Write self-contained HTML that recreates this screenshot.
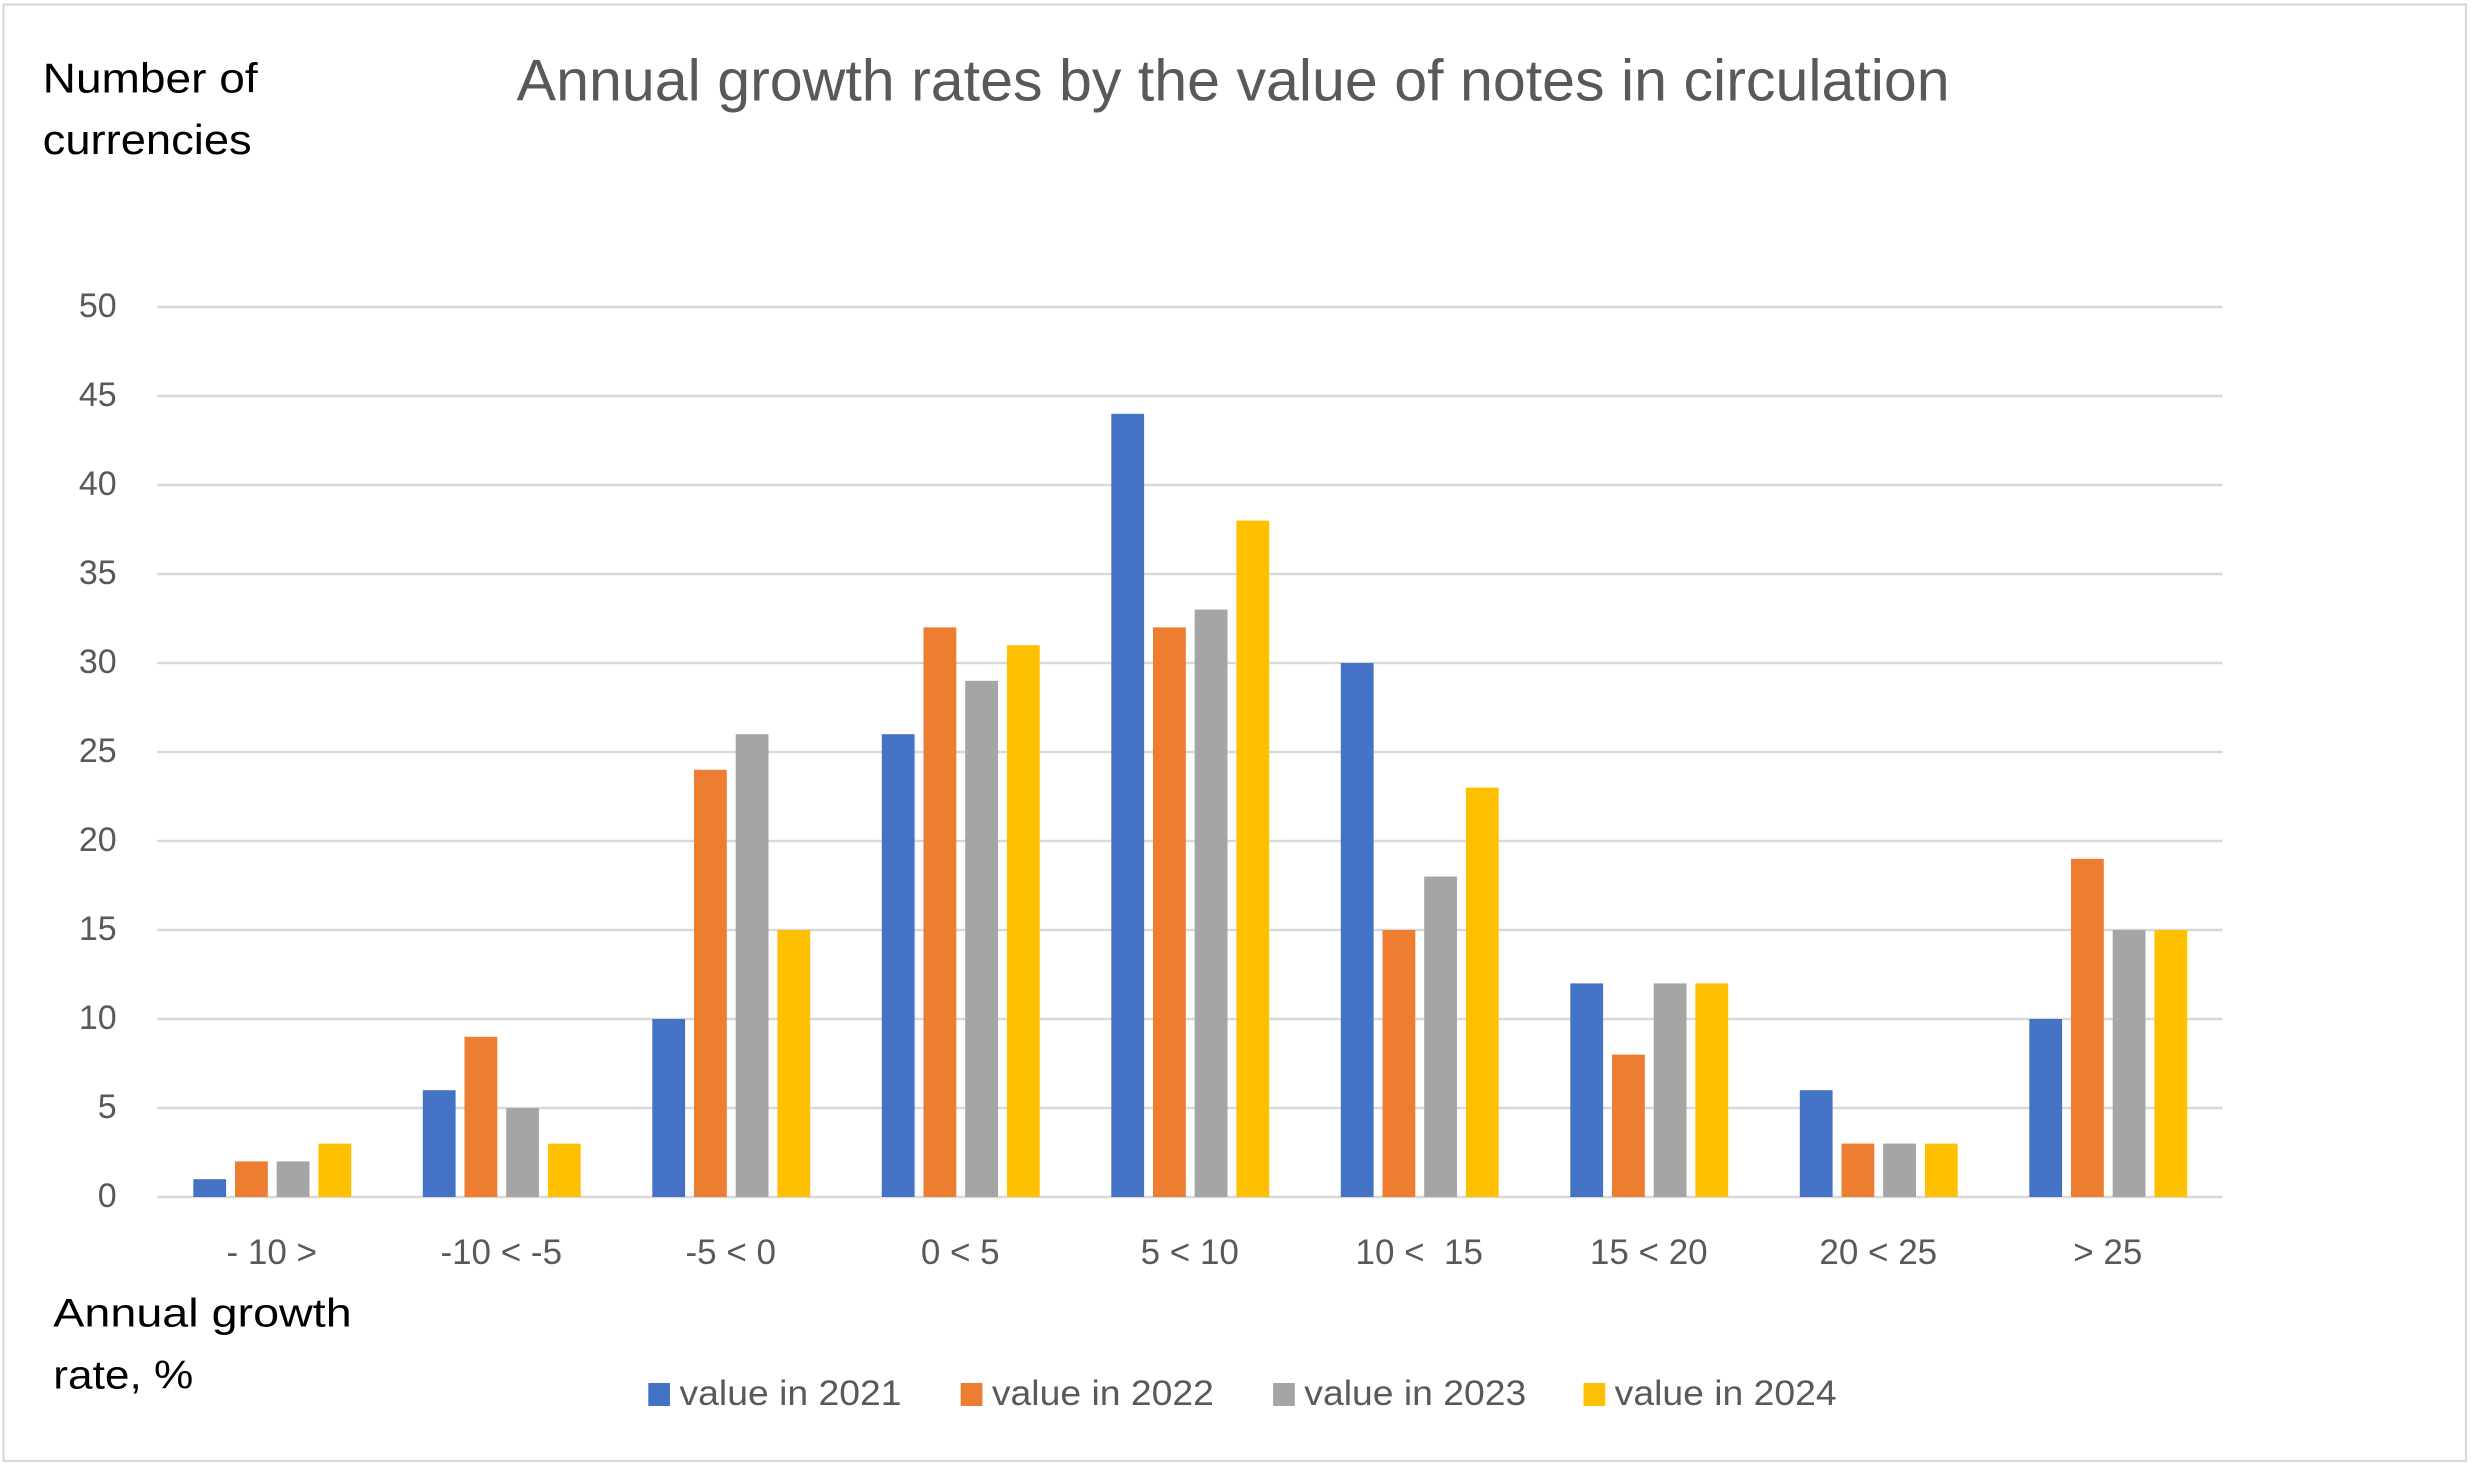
<!DOCTYPE html>
<html>
<head>
<meta charset="utf-8">
<style>
  html, body { margin: 0; padding: 0; background: #ffffff; }
  svg { display: block; }
  text { font-family: "Liberation Sans", "DejaVu Sans", sans-serif; }
</style>
</head>
<body>
<svg width="2475" height="1471" viewBox="0 0 2475 1471" xmlns="http://www.w3.org/2000/svg">
  <rect x="0" y="0" width="2475" height="1471" fill="#ffffff"/>
  <rect x="3.5" y="4.5" width="2462.5" height="1456.5" fill="none" stroke="#d9d9d9" stroke-width="2.2"/>

  <!-- Title -->
  <text x="516.7" y="100.7" font-size="58" fill="#595959" textLength="1433" lengthAdjust="spacingAndGlyphs">Annual growth rates by the value of notes in circulation</text>

  <!-- Y axis title -->
  <text x="42.7" y="92.7" font-size="42" fill="#000000" textLength="215" lengthAdjust="spacingAndGlyphs">Number of</text>
  <text x="42.7" y="154" font-size="42" fill="#000000" textLength="209" lengthAdjust="spacingAndGlyphs">currencies</text>

  <!-- X axis title -->
  <text x="53.3" y="1326.7" font-size="40" fill="#000000" textLength="298.4" lengthAdjust="spacingAndGlyphs">Annual growth</text>
  <text x="53.3" y="1388.3" font-size="40" fill="#000000" textLength="140" lengthAdjust="spacingAndGlyphs">rate, %</text>

  <!-- Gridlines -->
  <g stroke="#d9d9d9" stroke-width="2.5">
    <line x1="157" y1="307" x2="2222.5" y2="307"/>
    <line x1="157" y1="396" x2="2222.5" y2="396"/>
    <line x1="157" y1="485" x2="2222.5" y2="485"/>
    <line x1="157" y1="574" x2="2222.5" y2="574"/>
    <line x1="157" y1="663" x2="2222.5" y2="663"/>
    <line x1="157" y1="752" x2="2222.5" y2="752"/>
    <line x1="157" y1="841" x2="2222.5" y2="841"/>
    <line x1="157" y1="930" x2="2222.5" y2="930"/>
    <line x1="157" y1="1019" x2="2222.5" y2="1019"/>
    <line x1="157" y1="1108" x2="2222.5" y2="1108"/>
    <line x1="157" y1="1197" x2="2222.5" y2="1197"/>
  </g>

  <!-- Y tick labels -->
  <g font-size="34" fill="#595959" text-anchor="end">
    <text x="116.7" y="317">50</text>
    <text x="116.7" y="406">45</text>
    <text x="116.7" y="495">40</text>
    <text x="116.7" y="584">35</text>
    <text x="116.7" y="673">30</text>
    <text x="116.7" y="762">25</text>
    <text x="116.7" y="851">20</text>
    <text x="116.7" y="940">15</text>
    <text x="116.7" y="1029">10</text>
    <text x="116.7" y="1118">5</text>
    <text x="116.7" y="1207">0</text>
  </g>

  <!-- Bars (units: y scaled by 17.8 px per unit, origin at 1197) -->
  <g transform="matrix(1 0 0 -17.8 0 1197)">
    <!-- value in 2021 -->
    <g fill="#4472c4">
      <rect x="193.3" y="0" width="32.8" height="1"/>
      <rect x="422.8" y="0" width="32.8" height="6"/>
      <rect x="652.3" y="0" width="32.8" height="10"/>
      <rect x="881.8" y="0" width="32.8" height="26"/>
      <rect x="1111.3" y="0" width="32.8" height="44"/>
      <rect x="1340.8" y="0" width="32.8" height="30"/>
      <rect x="1570.3" y="0" width="32.8" height="12"/>
      <rect x="1799.8" y="0" width="32.8" height="6"/>
      <rect x="2029.3" y="0" width="32.8" height="10"/>
    </g>
    <!-- value in 2022 -->
    <g fill="#ed7d31">
      <rect x="235.0" y="0" width="32.8" height="2"/>
      <rect x="464.5" y="0" width="32.8" height="9"/>
      <rect x="694.0" y="0" width="32.8" height="24"/>
      <rect x="923.5" y="0" width="32.8" height="32"/>
      <rect x="1153.0" y="0" width="32.8" height="32"/>
      <rect x="1382.5" y="0" width="32.8" height="15"/>
      <rect x="1612.0" y="0" width="32.8" height="8"/>
      <rect x="1841.5" y="0" width="32.8" height="3"/>
      <rect x="2071.0" y="0" width="32.8" height="19"/>
    </g>
    <!-- value in 2023 -->
    <g fill="#a5a5a5">
      <rect x="276.7" y="0" width="32.8" height="2"/>
      <rect x="506.2" y="0" width="32.8" height="5"/>
      <rect x="735.7" y="0" width="32.8" height="26"/>
      <rect x="965.2" y="0" width="32.8" height="29"/>
      <rect x="1194.7" y="0" width="32.8" height="33"/>
      <rect x="1424.2" y="0" width="32.8" height="18"/>
      <rect x="1653.7" y="0" width="32.8" height="12"/>
      <rect x="1883.2" y="0" width="32.8" height="3"/>
      <rect x="2112.7" y="0" width="32.8" height="15"/>
    </g>
    <!-- value in 2024 -->
    <g fill="#ffc000">
      <rect x="318.4" y="0" width="32.8" height="3"/>
      <rect x="547.9" y="0" width="32.8" height="3"/>
      <rect x="777.4" y="0" width="32.8" height="15"/>
      <rect x="1006.9" y="0" width="32.8" height="31"/>
      <rect x="1236.4" y="0" width="32.8" height="38"/>
      <rect x="1465.9" y="0" width="32.8" height="23"/>
      <rect x="1695.4" y="0" width="32.8" height="12"/>
      <rect x="1924.9" y="0" width="32.8" height="3"/>
      <rect x="2154.4" y="0" width="32.8" height="15"/>
    </g>
  </g>

  <!-- Category labels -->
  <g font-size="35" fill="#595959" text-anchor="middle" style="white-space:pre">
    <text x="271.75" y="1264">- 10 &gt;</text>
    <text x="501.25" y="1264">-10 &lt; -5</text>
    <text x="730.75" y="1264">-5 &lt; 0</text>
    <text x="960.25" y="1264">0 &lt; 5</text>
    <text x="1189.75" y="1264">5 &lt; 10</text>
    <text x="1419.25" y="1264" xml:space="preserve">10 &lt;  15</text>
    <text x="1648.75" y="1264">15 &lt; 20</text>
    <text x="1878.25" y="1264">20 &lt; 25</text>
    <text x="2107.75" y="1264">&gt; 25</text>
  </g>

  <!-- Legend -->
  <rect x="648.3" y="1383" width="21.7" height="23" fill="#4472c4"/>
  <text x="679.5" y="1405" font-size="35" fill="#595959" textLength="222" lengthAdjust="spacingAndGlyphs">value in 2021</text>
  <rect x="960.7" y="1383" width="21.7" height="23" fill="#ed7d31"/>
  <text x="991.9" y="1405" font-size="35" fill="#595959" textLength="222" lengthAdjust="spacingAndGlyphs">value in 2022</text>
  <rect x="1273.1" y="1383" width="21.7" height="23" fill="#a5a5a5"/>
  <text x="1304.3" y="1405" font-size="35" fill="#595959" textLength="222" lengthAdjust="spacingAndGlyphs">value in 2023</text>
  <rect x="1583.5" y="1383" width="21.7" height="23" fill="#ffc000"/>
  <text x="1614.7" y="1405" font-size="35" fill="#595959" textLength="222" lengthAdjust="spacingAndGlyphs">value in 2024</text>
</svg>
</body>
</html>
